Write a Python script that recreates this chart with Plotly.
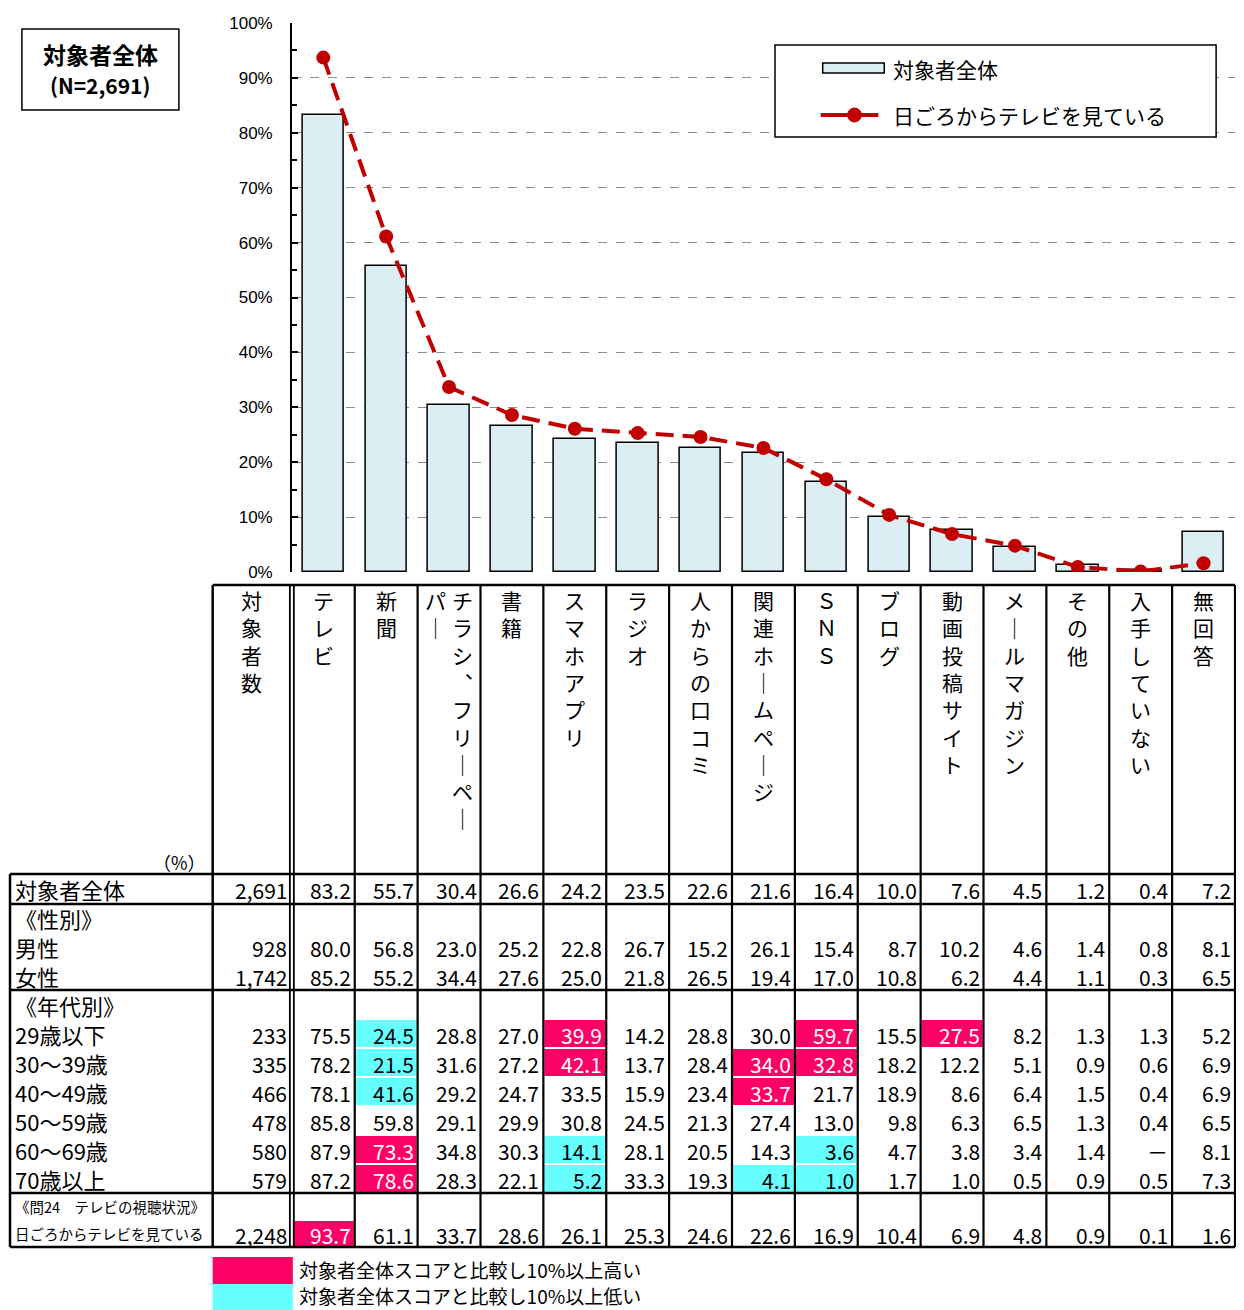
import plotly.graph_objects as go

# ---------------- data ----------------
CATEGORIES = ["テレビ", "新聞", "チラシ、フリーペーパー", "書籍", "スマホアプリ", "ラジオ",
              "人からの口コミ", "関連ホームページ", "ＳＮＳ", "ブログ", "動画投稿サイト",
              "メールマガジン", "その他", "入手していない", "無回答"]
# vertical header layout ("\n" = next column to the left)
HEADER_VERTICAL = ["テレビ", "新聞", "チラシ、フリーペー\nパー", "書籍", "スマホアプリ", "ラジオ",
                   "人からの口コミ", "関連ホームページ", "ＳＮＳ", "ブログ", "動画投稿サイト",
                   "メールマガジン", "その他", "入手していない", "無回答"]
N_HEADER = "対象者数"

TOTAL = [83.2, 55.7, 30.4, 26.6, 24.2, 23.5, 22.6, 21.6, 16.4, 10.0, 7.6, 4.5, 1.2, 0.4, 7.2]
TV_WATCHERS = [93.7, 61.1, 33.7, 28.6, 26.1, 25.3, 24.6, 22.6, 16.9, 10.4, 6.9, 4.8, 0.9, 0.1, 1.6]

SERIES_NAMES = ["対象者全体", "日ごろからテレビを見ている"]

ROW_LABELS = ["対象者全体", "《性別》", "男性", "女性", "《年代別》", "29歳以下", "30～39歳",
              "40～49歳", "50～59歳", "60～69歳", "70歳以上", "《問24　テレビの視聴状況》",
              "日ごろからテレビを見ている"]
ROW_N = ["2,691", "", "928", "1,742", "", "233", "335", "466", "478", "580", "579", "", "2,248"]
MALE = [80.0, 56.8, 23.0, 25.2, 22.8, 26.7, 15.2, 26.1, 15.4, 8.7, 10.2, 4.6, 1.4, 0.8, 8.1]
FEMALE = [85.2, 55.2, 34.4, 27.6, 25.0, 21.8, 26.5, 19.4, 17.0, 10.8, 6.2, 4.4, 1.1, 0.3, 6.5]
AGE_U29 = [75.5, 24.5, 28.8, 27.0, 39.9, 14.2, 28.8, 30.0, 59.7, 15.5, 27.5, 8.2, 1.3, 1.3, 5.2]
AGE_30S = [78.2, 21.5, 31.6, 27.2, 42.1, 13.7, 28.4, 34.0, 32.8, 18.2, 12.2, 5.1, 0.9, 0.6, 6.9]
AGE_40S = [78.1, 41.6, 29.2, 24.7, 33.5, 15.9, 23.4, 33.7, 21.7, 18.9, 8.6, 6.4, 1.5, 0.4, 6.9]
AGE_50S = [85.8, 59.8, 29.1, 29.9, 30.8, 24.5, 21.3, 27.4, 13.0, 9.8, 6.3, 6.5, 1.3, 0.4, 6.5]
AGE_60S = [87.9, 73.3, 34.8, 30.3, 14.1, 28.1, 20.5, 14.3, 3.6, 4.7, 3.8, 3.4, 1.4, None, 8.1]
AGE_70P = [87.2, 78.6, 28.3, 22.1, 5.2, 33.3, 19.3, 4.1, 1.0, 1.7, 1.0, 0.5, 0.9, 0.5, 7.3]
ROW_VALUES = [TOTAL, None, MALE, FEMALE, None, AGE_U29, AGE_30S, AGE_40S, AGE_50S,
              AGE_60S, AGE_70P, None, TV_WATCHERS]
# H = 10% or more above total, L = 10% or more below total
ROW_FLAGS = ["", "", "", "", "",
             ".L..H...H.H....",
             ".L..H..HH......",
             ".L.....H.......",
             "...............",
             ".H..L...L......",
             ".H..L..LL......",
             "",
             "H.............."]
LEGEND_HI = "対象者全体スコアと比較し10%以上高い"
LEGEND_LO = "対象者全体スコアと比較し10%以上低い"
BOX_TITLE = "対象者全体"
BOX_N = "(N=2,691)"

# ---------------- style / geometry ----------------
PAGE_W, PAGE_H = 1244, 1310
PAGE_OFF = 8            # browser body margin, compensated
VISIBLE_RIGHT = 1235.0  # rightmost page pixel that is shown
W, H = PAGE_W - PAGE_OFF, PAGE_H - PAGE_OFF
FONT = "Noto Sans CJK JP"
BAR_FILL = "#DAEEF3"
RED = "#C00000"
PINK = "#FF0066"
CYAN = "#66FFFF"

AXIS_X = 293.7
RIGHT_X = 1243.0
NCOL = len(CATEGORIES)
COL_W = (RIGHT_X - AXIS_X) / NCOL
Y0_PX, Y100_PX = 572.0, 23.0
TABLE_LEFT, LABEL_RIGHT = 10.0, 214.0
HEADER_TOP, HEADER_BOTTOM = 585.0, 874.0
BLOCKS = [(874.0, 904.0, 1), (904.0, 990.0, 3), (990.0, 1193.0, 7), (1193.0, 1247.0, 2)]
TABLE_BOTTOM = BLOCKS[-1][1]

# horizontal squeeze so that the reference width fits into the visible page
SX = (VISIBLE_RIGHT - TABLE_LEFT) / (RIGHT_X - TABLE_LEFT)

row_geo = []
for top, bot, n in BLOCKS:
    h = (bot - top) / n
    for i in range(n):
        row_geo.append((top + i * h, top + (i + 1) * h))


def col_left(k):
    return AXIS_X + k * COL_W


def page_x(x):
    return TABLE_LEFT + (x - TABLE_LEFT) * SX


def fx(px):
    return (page_x(px) - PAGE_OFF) / W


def fy(py):
    return 1 - (py - PAGE_OFF) / H


X2_RANGE = [TABLE_LEFT + (PAGE_OFF - TABLE_LEFT) / SX,
            TABLE_LEFT + (PAGE_OFF + W - TABLE_LEFT) / SX]

fig = go.Figure()
xs = list(range(1, NCOL + 1))
fig.add_trace(go.Bar(x=xs, y=TOTAL, width=0.66, name=SERIES_NAMES[0],
                     marker=dict(color=BAR_FILL, line=dict(color="black", width=1.5)),
                     xaxis="x", yaxis="y", hoverinfo="skip"))
fig.add_trace(go.Scatter(x=xs, y=TV_WATCHERS, mode="lines+markers", name=SERIES_NAMES[1],
                         line=dict(color=RED, width=4, dash="18px,9px"),
                         marker=dict(size=14, color=RED),
                         xaxis="x", yaxis="y", hoverinfo="skip"))
# helper trace for the table axes (reference-pixel units)
fig.add_trace(go.Scatter(x=[600], y=[600], mode="markers", marker=dict(opacity=0),
                         xaxis="x2", yaxis="y2", hoverinfo="skip", showlegend=False))

shapes = []
ann = []


def line(x0, y0, x1, y1, w=2.0, color="black"):
    shapes.append(dict(type="line", xref="x2", yref="y2", x0=x0, y0=y0, x1=x1, y1=y1,
                       line=dict(color=color, width=w)))


def rect(x0, y0, x1, y1, fill, lw=0, lc="black", layer="below"):
    shapes.append(dict(type="rect", xref="x2", yref="y2", x0=x0, y0=y0, x1=x1, y1=y1,
                       fillcolor=fill, line=dict(color=lc, width=lw), layer=layer))


def text(x, y, s, size=21, xa="left", ya="middle", color="black", bold=False, family=FONT):
    ann.append(dict(xref="x2", yref="y2", x=x, y=y, text=("<b>%s</b>" % s) if bold else s,
                    showarrow=False, xanchor=xa, yanchor=ya, borderpad=0,
                    font=dict(family=family, size=size, color=color)))


# ---- highlight cells ----
for r, flags in enumerate(ROW_FLAGS):
    t, b = row_geo[r]
    for k, f in enumerate(flags):
        if f in "HL":
            rect(col_left(k) + 1, t + 1, col_left(k + 1) - 1, b - 1, PINK if f == "H" else CYAN)

# ---- table lines ----
hlines = [HEADER_TOP] + [blk[0] for blk in BLOCKS] + [TABLE_BOTTOM]
for i, yv in enumerate(hlines):
    x0 = LABEL_RIGHT if i == 0 else TABLE_LEFT
    line(x0, yv, RIGHT_X, yv, w=2.5)
line(TABLE_LEFT, HEADER_BOTTOM, TABLE_LEFT, TABLE_BOTTOM, w=2.5)
line(LABEL_RIGHT, HEADER_TOP, LABEL_RIGHT, TABLE_BOTTOM, w=2.5)
line(AXIS_X - 2, HEADER_TOP, AXIS_X - 2, TABLE_BOTTOM, w=1.8)
line(AXIS_X + 2, HEADER_TOP, AXIS_X + 2, TABLE_BOTTOM, w=1.8)
for k in range(1, NCOL + 1):
    line(col_left(k), HEADER_TOP, col_left(k), TABLE_BOTTOM, w=2.2)

# ---- headers (vertical text) ----
VSIZE = 21
VERTICAL_FORMS = {"ー": "｜", "、": "︑"}


def vertical(cx, s):
    cols = s.split("\n")
    n = len(cols)
    step = 27
    for j, c in enumerate(cols):
        cxj = cx + ((n - 1) / 2 - j) * step
        chars = [VERTICAL_FORMS.get(ch, ch) for ch in c]
        text(cxj, 584, "<br>".join(chars), size=VSIZE, xa="center", ya="top")


vertical((LABEL_RIGHT + AXIS_X - 2) / 2, N_HEADER)
for k, h in enumerate(HEADER_VERTICAL):
    vertical(col_left(k) + COL_W / 2, h)
text(208, 862, "（%）", size=18, xa="right")

# ---- rows ----
for r, lab in enumerate(ROW_LABELS):
    t, b = row_geo[r]
    cy = (t + b) / 2
    small = r >= 11
    text(14, cy, lab, size=14.5 if small else 22)
    if ROW_N[r]:
        text(AXIS_X - 4, cy + 1, ROW_N[r], size=21, xa="right")
    vals = ROW_VALUES[r]
    if vals is None:
        continue
    flags = ROW_FLAGS[r]
    for k, v in enumerate(vals):
        s = "－" if v is None else "%.1f" % v
        color = "white" if (flags and flags[k] == "H") else "black"
        text(col_left(k + 1) - 3, cy + 1, s, size=21, xa="right", color=color)

# ---- bottom legend ----
rect(LABEL_RIGHT, 1257, AXIS_X + 1, 1284, PINK)
rect(LABEL_RIGHT, 1284, AXIS_X + 1, 1312, CYAN)
text(300, 1269, LEGEND_HI, size=19)
text(300, 1295, LEGEND_LO, size=19)

# ---- top-left box ----
rect(22, 29, 180, 110, "white", lw=1.5, layer="above")
text(101, 54, BOX_TITLE, size=23, xa="center", bold=True)
text(101, 85, BOX_N, size=21, xa="center", bold=True)

# ---- legend box ----
rect(780, 45, 1224, 137, "white", lw=1.5, layer="above")
rect(828, 63, 890, 73, BAR_FILL, lw=1.5, layer="above")
text(898, 69, SERIES_NAMES[0], size=21)
line(826, 115, 884, 115, w=4, color=RED)
shapes.append(dict(type="circle", xref="x2", yref="y2", x0=853, y0=108, x1=867, y1=122,
                   fillcolor=RED, line=dict(color=RED, width=1)))
text(898, 115, SERIES_NAMES[1], size=21)

fig.update_layout(
    width=W, height=H,
    margin=dict(l=0, r=0, t=0, b=0, pad=0, autoexpand=False),
    paper_bgcolor="white", plot_bgcolor="rgba(0,0,0,0)",
    showlegend=False,
    bargap=0,
    xaxis=dict(domain=[fx(AXIS_X), fx(RIGHT_X)], range=[0.5, NCOL + 0.5], visible=False,
               fixedrange=True, automargin=False),
    yaxis=dict(domain=[fy(Y0_PX), fy(Y100_PX)], range=[0, 100], dtick=10,
               ticksuffix="%", showgrid=True, gridcolor="#8c8c8c", griddash="dash",
               gridwidth=1.2, zeroline=False, showline=True, linecolor="black", linewidth=1.5,
               ticks="inside", ticklen=6, tickwidth=1.5, tickcolor="black",
               minor=dict(dtick=5, ticks="inside", ticklen=5, tickwidth=1.5,
                          tickcolor="black", showgrid=False),
               ticklabelstandoff=14, automargin=False,
               tickfont=dict(family="Liberation Sans", size=17, color="black"),
               fixedrange=True),
    xaxis2=dict(domain=[0, 1], range=X2_RANGE, visible=False, anchor="y2",
                fixedrange=True, automargin=False),
    yaxis2=dict(domain=[0, 1], range=[H + PAGE_OFF, PAGE_OFF], visible=False, anchor="x2",
                fixedrange=True, automargin=False),
    shapes=shapes,
    annotations=ann,
)

fig.write_html("out.html")
